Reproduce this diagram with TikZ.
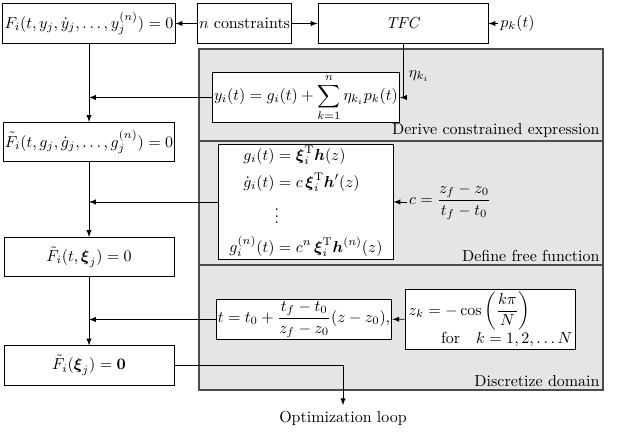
\documentclass[tikz,border=0pt]{standalone}
\usepackage{amsmath}
\usepackage{amssymb}
\usepackage{xcolor}
\usepackage{tikz}
\usetikzlibrary{positioning}

\begin{document}
\begin{tikzpicture}[
  x=0.022cm, y=-0.022cm,
  blk/.style={draw,fill=white,line width=0.6pt,inner sep=1pt,minimum width=3.74cm,minimum height=0.86cm},
  region/.style={draw=black!70,fill=black!10,line width=0.8pt},
  tag/.style={anchor=south east,inner sep=2pt},
  edge/.style={draw,-latex,line width=0.5pt}
]
\useasboundingbox (0,0) rectangle (623,436);

\draw[region] (199,49) rectangle (603,141);
\draw[region] (199,141) rectangle (603,265);
\draw[region] (199,265) rectangle (603,390);
\node[tag] (derive) at (603,141) {Derive constrained expression};
\node[tag] (define) at (603,265) {Define free function};
\node[tag] (discr) at (603,390) {Discretize domain};

\node[blk] (Fi) at (89,23.5) {$F_i(t,y_j,\dot y_j,\dots,y_j^{(n)})=0$};
\node[blk,minimum width=2cm] (ncon) at (244.5,23.5) {$n$ constraints};
\node[blk] (tfc) at (403,23.5) {\textit{TFC}};
\node[right=0.22cm of tfc,inner sep=1pt] (pk) {$p_k(t)$};

\node[blk,minimum width=3.83cm,minimum height=0.99cm] (yi) at (306,97.5)
  {$\displaystyle y_i(t)=g_i(t)+\sum_{k=1}^{n}\eta_{k_i}p_k(t)$};
\node[blk] (Ft1) at (89,142) {$\tilde F_i(t,g_j,\dot g_j,\dots,g_j^{(n)})=0$};

\node[blk,minimum width=3.83cm,minimum height=2.33cm] (g) at (306,202) {$\begin{aligned}
  g_i(t)&=\boldsymbol{\xi}_i^{\mathrm{T}}\boldsymbol{h}(z)\\
  \dot g_i(t)&=c\,\boldsymbol{\xi}_i^{\mathrm{T}}\boldsymbol{h}'(z)\\
  &\vdots\\
  g_i^{(n)}(t)&=c^n\,\boldsymbol{\xi}_i^{\mathrm{T}}\boldsymbol{h}^{(n)}(z)
\end{aligned}$};
\node[right=0.3cm of g,inner sep=1pt] (cdef) {$c=\dfrac{z_f-z_0}{t_f-t_0}$};
\node[blk] (Ft2) at (89,257) {$\tilde F_i(t,\boldsymbol{\xi}_j)=0$};

\node[blk] (tz) at (304,319.5) {$t=t_0+\dfrac{t_f-t_0}{z_f-z_0}(z-z_0),$};
\node[blk,minimum width=3.76cm,minimum height=1.32cm,text width=3.6cm,align=left] (zk) at (490.5,319)
  {$z_k=-\cos\left(\dfrac{k\pi}{N}\right)$\\ \hfill for\quad $k=1,2,\dots N$};
\node[blk] (Ft3) at (89,365.5) {$\tilde F_i(\boldsymbol{\xi}_j)=\mathbf{0}$};
\node (opt) at (343,418) {Optimization loop};

\draw[edge] (ncon) -- (Fi);
\draw[edge] (ncon) -- (tfc);
\draw[edge] (pk) -- (tfc);
\draw[edge] (tfc.south) |- node[right,pos=0.3] {$\eta_{k_i}$} (yi.east);
\draw[edge] (Fi) -- (Ft1);
\draw[edge] (yi.west) -- (yi.west -| Fi.south);
\draw[edge] (cdef) -- (g);
\draw[edge] (Ft1) -- (Ft2);
\draw[edge] (g.west) -- (g.west -| Ft1.south);
\draw[edge] (zk) -- (tz);
\draw[edge] (Ft2) -- (Ft3);
\draw[edge] (tz.west) -- (tz.west -| Ft2.south);
\draw[edge] (Ft3.east) -| (opt.north);
\end{tikzpicture}
\end{document}
